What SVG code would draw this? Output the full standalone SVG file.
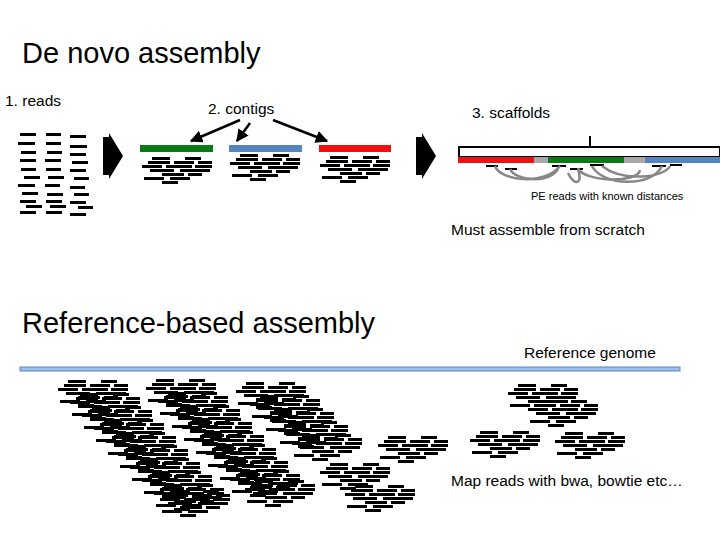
<svg xmlns="http://www.w3.org/2000/svg" xmlns:xlink="http://www.w3.org/1999/xlink" width="720" height="540" viewBox="0 0 720 540">
<style>
text{font-family:"Liberation Sans",Arial,sans-serif;fill:#000}
.h{font-size:29px}.m{font-size:15.5px}.s{font-size:11px}
.r{fill:#000}
</style>
<defs>
<g id="c">
<rect class="r" x="10" y="0" width="18" height="3"/><rect class="r" x="43" y="0" width="16" height="3"/>
<rect class="r" x="6" y="4" width="22" height="3"/><rect class="r" x="32" y="4" width="20" height="3"/><rect class="r" x="56" y="4" width="14" height="3"/>
<rect class="r" x="0" y="8" width="20" height="3"/><rect class="r" x="24" y="8" width="26" height="3"/><rect class="r" x="53" y="8" width="17" height="3"/>
<rect class="r" x="8" y="12" width="24" height="3"/><rect class="r" x="38" y="12" width="30" height="3"/>
<rect class="r" x="20" y="16" width="22" height="3"/><rect class="r" x="46" y="16" width="14" height="3"/>
<rect class="r" x="2" y="20" width="20" height="3"/><rect class="r" x="28" y="20" width="20" height="3"/>
<rect class="r" x="20" y="24" width="16" height="3"/>
</g>
<marker id="ah" viewBox="0 0 10 10" refX="9" refY="5" markerWidth="5" markerHeight="5" orient="auto"><path d="M0,0L10,5L0,10z"/></marker>
</defs>
<text class="h" x="22" y="63">De novo assembly</text>
<text class="m" x="5" y="106">1. reads</text>
<text class="m" x="208" y="114">2. contigs</text>
<text class="m" x="472" y="118">3. scaffolds</text>
<g id="reads">
<g fill="#000">
<rect x="20" y="133" width="16" height="3"/><rect x="46" y="133" width="15" height="3"/><rect x="70" y="135" width="16" height="3"/>
<rect x="18" y="142" width="17" height="3"/><rect x="46" y="142" width="15" height="3"/><rect x="70" y="145" width="17" height="3"/>
<rect x="21" y="151" width="15" height="3"/><rect x="47" y="151" width="15" height="3"/><rect x="70" y="153" width="16" height="3"/>
<rect x="20" y="159" width="16" height="3"/><rect x="45" y="159" width="16" height="3"/><rect x="72" y="161" width="16" height="3"/>
<rect x="21" y="168" width="15" height="3"/><rect x="46" y="168" width="15" height="3"/><rect x="70" y="169" width="16" height="3"/>
<rect x="24" y="176" width="16" height="3"/><rect x="48" y="176" width="16" height="3"/><rect x="74" y="177" width="15" height="3"/>
<rect x="18" y="184" width="17" height="3"/><rect x="45" y="184" width="15" height="3"/><rect x="70" y="186" width="15" height="3"/>
<rect x="22" y="192" width="16" height="3"/><rect x="47" y="193" width="16" height="3"/><rect x="74" y="193" width="15" height="3"/>
<rect x="20" y="200" width="16" height="3"/><rect x="46" y="200" width="16" height="3"/><rect x="70" y="201" width="16" height="3"/>
<rect x="26" y="205" width="16" height="3"/><rect x="50" y="205" width="16" height="3"/><rect x="78" y="206" width="15" height="3"/>
<rect x="20" y="211" width="16" height="3"/><rect x="46" y="211" width="16" height="3"/><rect x="70" y="213" width="16" height="3"/>
</g>
</g>
<g id="arrow1"><path d="M103,137h6v-4l14,23l-14,23v-4h-6z" fill="#000"/></g>
<g id="contigs">
<rect x="140" y="145" width="73" height="7" fill="#0a7a14"/>
<rect x="229" y="145" width="73" height="7" fill="#5585c0"/>
<rect x="319" y="145" width="72" height="7" fill="#ee1111"/>
<use xlink:href="#c" x="142" y="157"/>
<use xlink:href="#c" x="230" y="154"/>
<use xlink:href="#c" x="320" y="156"/>
</g>
<g id="connectors" stroke="#000" stroke-width="2.5" fill="none" marker-end="url(#ah)">
<line x1="240" y1="120" x2="191" y2="141"/>
<line x1="250" y1="123" x2="237" y2="141"/>
<line x1="273" y1="120" x2="327" y2="141"/>
</g>
<g id="arrow2"><path d="M416,137h6v-4l14,23l-14,23v-4h-6z" fill="#000"/></g>
<g id="scaffold">
<rect x="459" y="147" width="261" height="10" fill="#fff" stroke="#000" stroke-width="2"/>
<line x1="590" y1="136" x2="590" y2="147" stroke="#000" stroke-width="2"/>
<rect x="458" y="157" width="76" height="6" fill="#ee1111"/>
<rect x="534" y="157" width="14" height="6" fill="#a8a8a8"/>
<rect x="548" y="157" width="76" height="6" fill="#0a7a14"/>
<rect x="624" y="157" width="21" height="6" fill="#a8a8a8"/>
<rect x="645" y="157" width="75" height="6" fill="#5585c0"/>
<g fill="#000"><rect x="486" y="165" width="12" height="2"/><rect x="505" y="168" width="12" height="2"/><rect x="552" y="165" width="14" height="2"/><rect x="570" y="168" width="13" height="2"/><rect x="590" y="164" width="14" height="2"/><rect x="652" y="165" width="14" height="2"/><rect x="670" y="164" width="12" height="2"/></g>
<g fill="none" stroke="#888" stroke-width="2.5">
<path d="M495,166c5,15 50,20 65,0"/><path d="M510,169c5,12 40,15 48,0"/><path d="M578,169c5,15 -3,18 -10,4"/>
<path d="M592,166c10,20 60,22 70,0"/><path d="M602,166c20,16 62,12 68,0"/><path d="M578,168c5,14 60,16 62,2"/>
</g>
<text class="s" x="531" y="200">PE reads with known distances</text>
</g>
<text class="m" x="451" y="235">Must assemble from scratch</text>
<text class="h" x="22" y="333">Reference-based assembly</text>
<text class="m" x="524" y="358">Reference genome</text>
<g id="reference"><rect x="20" y="367" width="660" height="4" fill="#9cc0e8" stroke="#5a85c0" stroke-width="1"/></g>
<g id="mapped">
<use xlink:href="#c" x="58" y="380"/><use xlink:href="#c" x="70" y="393"/><use xlink:href="#c" x="82" y="406"/><use xlink:href="#c" x="94" y="419"/><use xlink:href="#c" x="106" y="432"/><use xlink:href="#c" x="118" y="445"/><use xlink:href="#c" x="130" y="458"/><use xlink:href="#c" x="142" y="471"/><use xlink:href="#c" x="154" y="484"/><use xlink:href="#c" x="160" y="490"/>
<use xlink:href="#c" x="146" y="379"/><use xlink:href="#c" x="158" y="392"/><use xlink:href="#c" x="170" y="405"/><use xlink:href="#c" x="182" y="418"/><use xlink:href="#c" x="194" y="431"/><use xlink:href="#c" x="206" y="444"/><use xlink:href="#c" x="218" y="457"/><use xlink:href="#c" x="230" y="470"/><use xlink:href="#c" x="245" y="480"/>
<use xlink:href="#c" x="236" y="382"/><use xlink:href="#c" x="250" y="395"/><use xlink:href="#c" x="264" y="408"/><use xlink:href="#c" x="278" y="421"/><use xlink:href="#c" x="292" y="434"/><use xlink:href="#c" x="320" y="463"/><use xlink:href="#c" x="345" y="485"/>
<use xlink:href="#c" x="378" y="436"/>
<use xlink:href="#c" x="508" y="384"/><use xlink:href="#c" x="528" y="400"/>
<use xlink:href="#c" x="470" y="431"/><use xlink:href="#c" x="555" y="432"/>
</g>
<text class="m" x="451" y="486">Map reads with bwa, bowtie etc…</text>
</svg>
